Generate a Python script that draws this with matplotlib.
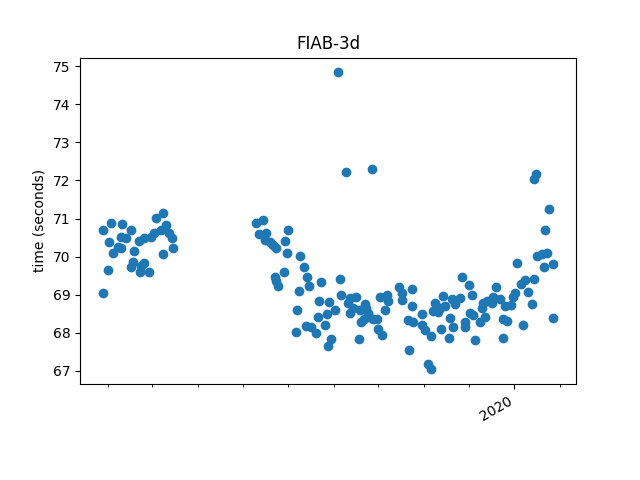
import numpy as np
import pandas as pd
import matplotlib
matplotlib.use("Agg")
import matplotlib.pyplot as plt
import matplotlib.dates as mdates

# run day, counted from 2019-01-01, and measured wall time
days = [
    86.3, 89.7, 86.8, 92.0, 99.2, 105.6, 90.9, 93.1, 96.5, 98.8,
    98.8, 102.2, 107.8, 106.7, 105.6, 112.4, 114.6, 118.0, 111.9, 111.2,
    114.6, 119.2, 121.4, 122.5, 127.0, 129.3, 125.9, 131.6, 133.4, 133.8,
    127.5,
    190.3, 194.8, 192.1, 196.7, 196.0, 199.4, 201.6, 203.9, 211.8, 210.0,
    211.4, 219.7, 222.6, 209.1, 202.8, 205.0, 203.8, 224.7, 226.0, 219.2,
    233.9, 246.8, 247.5, 232.6, 239.6, 217.9, 243.4, 238.2, 232.1, 223.8,
    227.6, 230.6, 236.7, 217.5, 240.7, 238.9, 252.5, 253.6, 258.1, 255.8,
    253.6, 263.8, 264.5, 260.4, 266.0, 263.1, 266.7, 261.5, 269.4, 272.1,
    259.9, 272.8, 275.1, 273.9, 278.5, 279.6, 277.3, 287.0, 288.7, 289.1,
    295.4, 295.8, 293.1, 296.5, 293.8, 302.6, 302.2, 304.5, 308.3, 306.7,
    308.5, 311.2, 310.1, 315.3,
    245.5, 250.9, 268.5,
    313.5, 314.6, 316.9, 318.0, 322.6, 324.8, 328.2, 329.5, 334.5, 336.5,
    321.4, 323.6, 320.9, 331.6, 331.6, 335.0, 337.2, 338.6, 341.7, 342.9,
    344.0, 345.1, 346.3, 349.7, 350.8, 352.6, 355.3, 357.5, 360.3, 357.5,
    358.7, 362.6, 363.9, 365.5, 367.0, 369.3, 372.3, 377.9, 374.1, 371.1,
    376.8, 380.2, 383.6, 387.0, 384.7, 391.4, 390.8, 385.8, 388.1, 378.4,
    379.7,
]
times = [
    69.04, 69.65, 70.70, 70.87, 70.85, 70.70, 70.37, 70.10, 70.26, 70.22,
    70.52, 70.48, 70.15, 69.87, 69.72, 69.74, 69.82, 69.60, 69.60, 70.42,
    70.48, 70.51, 70.61, 71.01, 71.15, 70.83, 70.70, 70.61, 70.48, 70.22,
    70.07,
    70.89, 70.96, 70.59, 70.63, 70.44, 70.39, 70.30, 70.23, 70.70, 70.41,
    70.10, 70.02, 69.72, 69.60, 69.45, 69.23, 69.36, 69.47, 69.23, 69.10,
    69.33, 69.41, 68.99, 68.84, 68.80, 68.60, 68.60, 68.49, 68.40, 68.18,
    68.15, 68.00, 68.20, 68.02, 67.84, 67.66, 68.78, 68.91, 68.95, 68.64,
    68.51, 68.76, 68.64, 68.60, 68.51, 68.36, 68.42, 68.27, 68.36, 68.36,
    67.83, 68.09, 67.93, 68.95, 68.99, 68.82, 68.60, 69.20, 69.04, 68.86,
    69.15, 68.71, 68.34, 68.29, 67.54, 68.49, 68.19, 68.08, 67.92, 67.18,
    67.04, 68.78, 68.57, 68.10,
    74.84, 72.22, 72.30,
    68.53, 68.64, 68.97, 68.69, 68.88, 68.76, 68.91, 69.47, 69.25, 68.99,
    68.38, 68.14, 67.86, 68.29, 68.16, 68.51, 68.47, 67.81, 68.28, 68.64,
    68.78, 68.42, 68.82, 68.78, 68.95, 69.20, 68.88, 68.36, 68.31, 67.86,
    68.71, 68.72, 68.93, 69.04, 69.82, 69.28, 69.39, 69.41, 69.06, 68.21,
    68.76, 70.02, 70.06, 70.09, 69.72, 69.80, 68.38, 70.69, 71.24, 72.03,
    72.17,
]

dates = pd.to_datetime("2019-01-01") + pd.to_timedelta(days, unit="D")

fig, ax = plt.subplots(figsize=(6.4, 4.8), dpi=100)
ax.plot(dates, times, "o", color="#1f77b4")

ax.xaxis.set_major_locator(mdates.YearLocator())
ax.xaxis.set_minor_locator(mdates.MonthLocator())
ax.xaxis.set_major_formatter(mdates.DateFormatter("%Y"))

ax.set_title("FIAB-3d")
ax.set_ylabel("time (seconds)")
fig.autofmt_xdate()

fig.savefig("out.png")
